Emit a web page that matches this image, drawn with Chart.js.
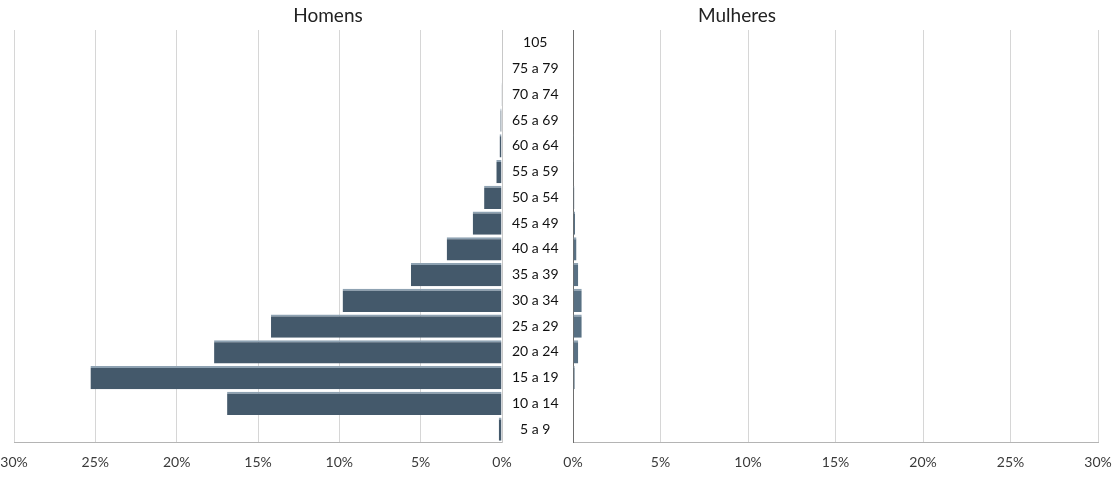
<!DOCTYPE html>
<html>
<head>
<meta charset="utf-8">
<script src="https://cdn.jsdelivr.net/npm/chart.js@4/dist/chart.umd.min.js"></script>
<style>
    body { margin: 0; background: #fff; }
    #wrap { position: relative; width: 1115px; height: 480px; font-family: Lato, 'Open Sans', sans-serif; }
    .panel { position: absolute; top: 0; height: 480px; }
    #menPanel { left: 0; width: 572px; }
    #womenPanel { left: 560px; width: 555px; }
    .title { position: absolute; top: 3px; width: 160px; text-align: center; font-size: 19px; color: #222; }
</style>
</head>
<body>
<div id="wrap">
    <div class="panel" id="menPanel"><canvas id="menChart"></canvas></div>
    <div class="panel" id="womenPanel"><canvas id="womenChart"></canvas></div>
    <div class="title" style="left: 248px;">Homens</div>
    <div class="title" style="left: 657px;">Mulheres</div>
</div>
<script>
// age groups, top to bottom
const ageGroups = ['105', '75 a 79', '70 a 74', '65 a 69', '60 a 64', '55 a 59', '50 a 54', '45 a 49',
    '40 a 44', '35 a 39', '30 a 34', '25 a 29', '20 a 24', '15 a 19', '10 a 14', '5 a 9'];
// share of population, in %
const menShare = [0, 0.03, 0.05, 0.1, 0.15, 0.35, 1.1, 1.8, 3.4, 5.6, 9.8, 14.2, 17.7, 25.3, 16.9, 0.2];
const womenShare = [0, 0.03, 0.03, 0.04, 0.05, 0.05, 0.08, 0.12, 0.2, 0.3, 0.5, 0.5, 0.3, 0.1, 0.03, 0];
const axisTicks = [0, 5, 10, 15, 20, 25, 30];

const barColor = '#44596b';
const barEdge = '#8ea2b2';
const gridColor = '#d6d6d6';
const labelColor = '#3a3a3a';
const labelFont = { family: 'Lato', size: 14 };

Chart.defaults.animation = false;
Chart.defaults.maintainAspectRatio = false;
Chart.defaults.color = labelColor;

function percentAxis(reverse) {
    return {
        type: 'linear',
        reverse,
        min: axisTicks[0],
        max: axisTicks[axisTicks.length - 1],
        afterBuildTicks: (axis) => {
            axis.ticks = axisTicks.map((v) => ({ value: v }));
        },
        // fixed height, and let the end labels hang into the layout padding
        afterFit: (axis) => {
            axis.height = 30;
            axis.paddingLeft = 0;
            axis.paddingRight = 0;
        },
        ticks: {
            font: labelFont,
            padding: 12,
            callback: (value) => `${value}%`,
        },
        grid: {
            color: gridColor,
            drawTicks: false,
        },
        border: {
            color: '#b4b4b4',
        },
    };
}

function barDataset(data, color) {
    return {
        data,
        backgroundColor: color,
        borderColor: barEdge,
        borderWidth: { top: 2, bottom: 0, left: 0, right: 0 },
        borderSkipped: false,
        categoryPercentage: 0.9,
        barPercentage: 1,
    };
}

const basePlugins = {
    legend: { display: false },
    tooltip: { enabled: false },
};

// men: reversed axis, age labels on the right side
new Chart(document.getElementById('menChart'), {
    type: 'bar',
    data: {
        labels: ageGroups,
        datasets: [barDataset(menShare, barColor)],
    },
    options: {
        indexAxis: 'y',
        layout: { padding: { top: 30, left: 14, right: 0, bottom: 8 } },
        plugins: basePlugins,
        scales: {
            x: percentAxis(true),
            y: {
                position: 'right',
                afterFit: (axis) => { axis.width = 70; },
                ticks: {
                    font: labelFont,
                    color: '#111',
                    padding: 10,
                    crossAlign: 'center',
                },
                grid: { display: false, drawTicks: false },
                border: { color: '#c8c8c8' },
            },
        },
    },
});

// women
new Chart(document.getElementById('womenChart'), {
    type: 'bar',
    data: {
        labels: ageGroups,
        datasets: [barDataset(womenShare, '#587083')],
    },
    options: {
        indexAxis: 'y',
        layout: { padding: { top: 30, left: 13, right: 17, bottom: 8 } },
        plugins: basePlugins,
        scales: {
            x: percentAxis(false),
            y: {
                afterFit: (axis) => { axis.width = 0; },
                ticks: { display: false },
                grid: { display: false, drawTicks: false },
                border: { color: '#6e6e6e' },
            },
        },
    },
});
</script>
</body>
</html>
